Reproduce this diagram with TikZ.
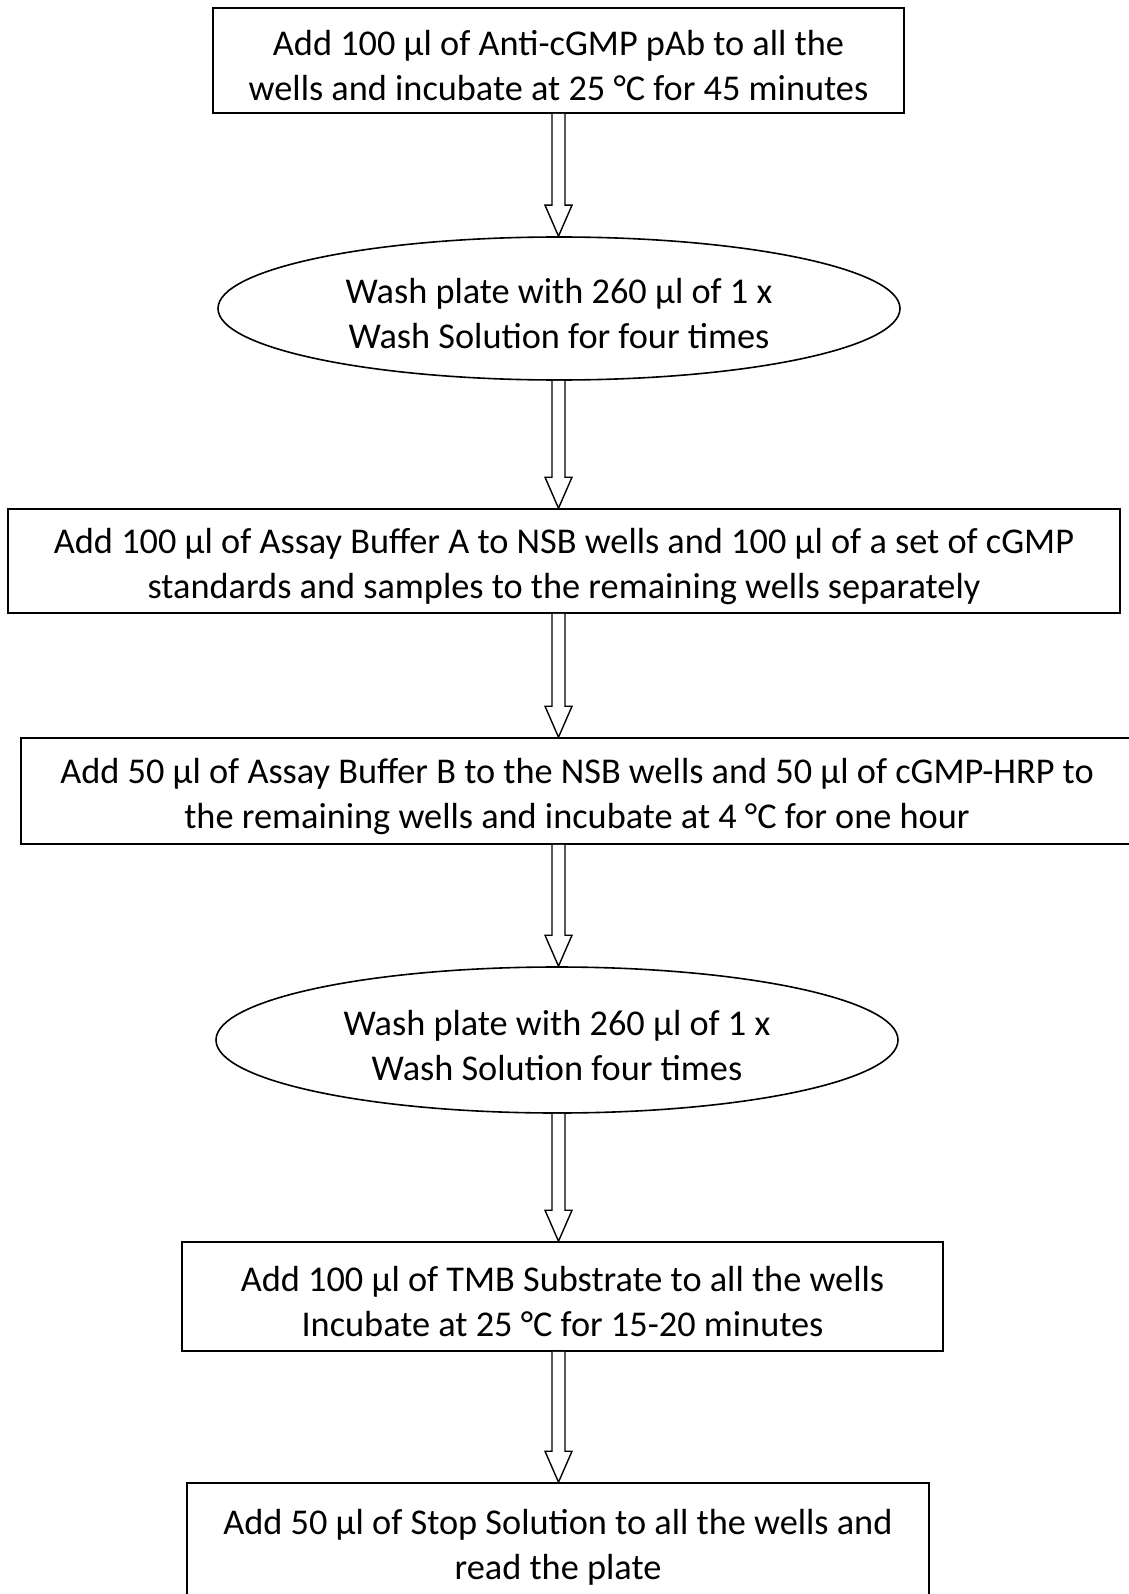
\documentclass[tikz,border=0pt]{standalone}
\usepackage{fontspec}
\setmainfont{Carlito}
\usetikzlibrary{shapes.geometric,calc}
\newcommand\topst{\rule{0pt}{36pt}}
\tikzset{
  txt/.style={font=\fontsize{36.3}{45}\selectfont},
  stepbox/.style={draw,line width=1.6pt,rectangle,inner sep=0pt,align=center,txt},
  stepoval/.style={draw,line width=1.6pt,ellipse,inner sep=0pt,align=center,txt},
  blockarr/.style={draw,line width=1.4pt,fill=white,line join=miter}
}
\newcommand\blockarrow[2]{%
  \draw[blockarr] ($(#1.south -| ax)+(-6.5,0)$) -- ($(#2.north -| ax)+(-6.5,-31)$) -- ($(#2.north -| ax)+(-13.5,-31)$) -- (#2.north -| ax) -- ($(#2.north -| ax)+(13.5,-31)$) -- ($(#2.north -| ax)+(6.5,-31)$) -- ($(#1.south -| ax)+(6.5,0)$);}
\begin{document}
\begin{tikzpicture}[x=1pt,y=-1pt]
\useasboundingbox (0,0) rectangle (1128,1594);
\coordinate (ax) at (558.5,0);
\node[stepbox,minimum width=691pt,minimum height=105pt] (b1) at (558.5,60.5)
  {\topst Add 100 µl of Anti-cGMP pAb to all the\\wells and incubate at 25 °C for 45 minutes};
\node[stepoval,minimum width=682pt,minimum height=143pt] (e1) at (559,308.5)
  {\topst Wash plate with 260 µl of 1 x\\Wash Solution for four times};
\node[stepbox,minimum width=1112pt,minimum height=104pt] (b3) at (564,561)
  {\topst Add 100 µl of Assay Buffer A to NSB wells and 100 µl of a set of cGMP\\standards and samples to the remaining wells separately};
\node[stepbox,minimum width=1112pt,minimum height=106pt] (b4) at (577,791)
  {\topst Add 50 µl of Assay Buffer B to the NSB wells and 50 µl of cGMP-HRP to\\the remaining wells and incubate at 4 °C for one hour};
\node[stepoval,minimum width=682pt,minimum height=146pt] (e2) at (557,1040)
  {\topst Wash plate with 260 µl of 1 x\\Wash Solution four times};
\node[stepbox,minimum width=761pt,minimum height=109pt] (b6) at (562.5,1296.5)
  {\topst Add 100 µl of TMB Substrate to all the wells\\Incubate at 25 °C for 15-20 minutes};
\node[stepbox,minimum width=742pt,minimum height=117pt] (b7) at (558,1541.5)
  {\topst Add 50 µl of Stop Solution to all the wells and\\read the plate};
\blockarrow{b1}{e1}
\blockarrow{e1}{b3}
\blockarrow{b3}{b4}
\blockarrow{b4}{e2}
\blockarrow{e2}{b6}
\blockarrow{b6}{b7}
\end{tikzpicture}
\end{document}
